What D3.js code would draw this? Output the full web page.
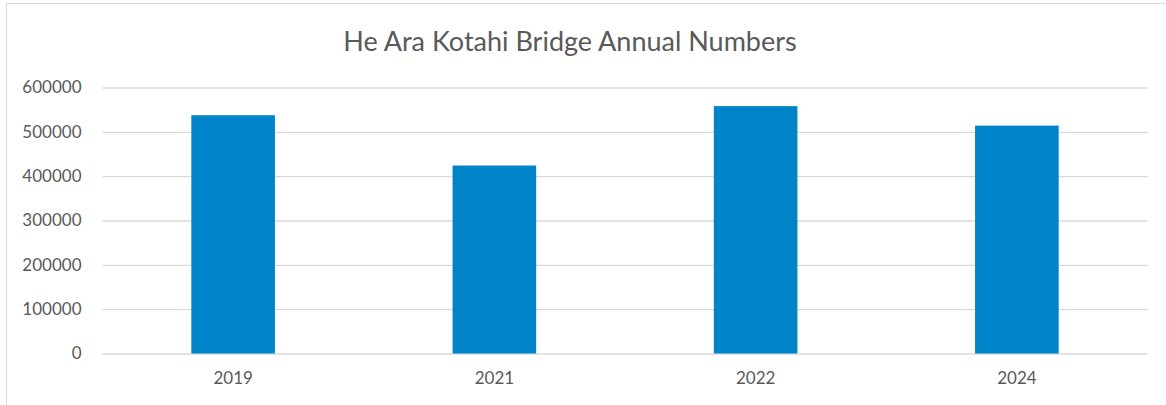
<!DOCTYPE html>
<html>
<head>
<meta charset="utf-8">
<script src="https://cdn.jsdelivr.net/npm/d3@7"></script>
<style>
  html, body { margin: 0; padding: 0; background: #fff; }
  svg { display: block; font-family: Lato, "Open Sans", sans-serif; }
</style>
</head>
<body>
<div id="chart-area"></div>
<script>
// data
const years = ['2019', '2021', '2022', '2024'];
const counts = [537500, 424000, 558000, 514000];
const yTicks = [0, 100000, 200000, 300000, 400000, 500000, 600000];
const title = 'He Ara Kotahi Bridge Annual Numbers';

(() => {
  const widthSvg = 1166;
  const heightSvg = 405;
  const margin = { top: 87.5, right: 18.5, bottom: 51.5, left: 102.5 };
  const widthChart = widthSvg - margin.left - margin.right;
  const heightChart = heightSvg - margin.top - margin.bottom;

  const textColor = '#595959';
  const gridColor = '#d9d9d9';
  const barColor = '#0084c9';

  const svg = d3.select('#chart-area')
    .append('svg')
      .attr('width', widthSvg)
      .attr('height', heightSvg);

  // outer chart frame (only top and left visible in the crop)
  svg.append('path')
    .attr('d', `M6.5,${heightSvg} V3.5 H${widthSvg}`)
    .attr('fill', 'none')
    .attr('stroke', '#d9d9d9')
    .attr('stroke-width', 1);

  svg.append('text')
    .attr('x', 570)
    .attr('y', 51)
    .attr('text-anchor', 'middle')
    .attr('fill', textColor)
    .attr('font-size', 27)
    .text(title);

  const chart = svg.append('g')
    .attr('transform', `translate(${margin.left}, ${margin.top})`);

  const scaleX = d3.scaleBand()
    .domain(years)
    .range([0, widthChart])
    .paddingInner(0.68)
    .paddingOuter(0.34);

  const scaleY = d3.scaleLinear()
    .domain([0, 600000])
    .range([heightChart, 0]);

  const axisY = d3.axisLeft(scaleY)
    .tickValues(yTicks)
    .tickSize(-widthChart)
    .tickPadding(21)
    .tickFormat(d3.format('d'));

  const groupAxisY = chart.append('g').call(axisY);
  groupAxisY.select('.domain').remove();
  groupAxisY.selectAll('line')
    .attr('stroke', gridColor)
    .attr('stroke-width', 1.3);
  groupAxisY.selectAll('text')
    .attr('fill', textColor)
    .attr('font-size', 17)
    .attr('font-family', 'Lato, sans-serif');

  chart.selectAll('rect.bar')
    .data(years)
    .enter()
    .append('rect')
      .attr('class', 'bar')
      .attr('x', d => scaleX(d))
      .attr('y', (d, i) => scaleY(counts[i]))
      .attr('width', scaleX.bandwidth())
      .attr('height', (d, i) => heightChart - scaleY(counts[i]))
      .attr('fill', barColor);

  const axisX = d3.axisBottom(scaleX)
    .tickSize(0)
    .tickPadding(18);

  const groupAxisX = chart.append('g')
    .attr('transform', `translate(0, ${heightChart})`)
    .call(axisX);
  groupAxisX.select('.domain').remove();
  groupAxisX.selectAll('text')
    .attr('fill', textColor)
    .attr('font-size', 17)
    .attr('font-family', 'Lato, sans-serif');
})();
</script>
</body>
</html>
